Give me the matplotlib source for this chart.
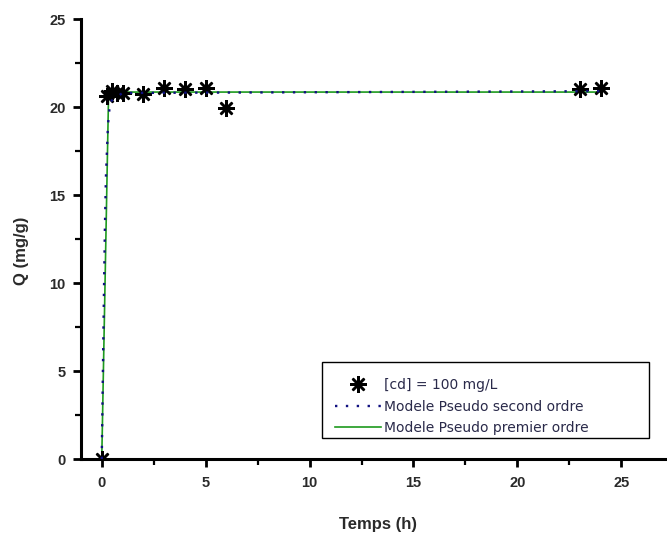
import matplotlib
matplotlib.use("Agg")
import matplotlib.pyplot as plt
from matplotlib.patches import Rectangle
from matplotlib.ticker import MultipleLocator

# Measured adsorption of Cd (100 mg/L) over time
t_exp = [0, 0.25, 0.5, 0.75, 1, 2, 3, 4, 5, 6, 23, 24]
q_exp = [0, 20.6, 20.9, 20.8, 20.8, 20.75, 21.1, 21.05, 21.1, 19.95, 21.0, 21.1]

# Pseudo-second-order model curve
t_ps2 = [0, 0.05, 0.1, 0.15, 0.2, 0.3, 0.4, 1.0, 24.0]
q_ps2 = [0, 4.5, 9.0, 13.0, 16.0, 19.0, 20.3, 20.8, 20.9]

# Pseudo-first-order model curve
t_ps1 = [0, 0.33, 24.0]
q_ps1 = [0, 20.85, 20.85]

labels = ["[cd] = 100 mg/L", "Modele Pseudo second ordre", "Modele Pseudo premier ordre"]

plt.rcParams["font.family"] = ["Liberation Sans", "DejaVu Sans"]

fig = plt.figure(figsize=(6.67, 5.39), dpi=100)
ax = fig.add_axes([0.1214, 0.1484, 0.8786, 0.8163])

ax.plot(t_exp, q_exp, linestyle="none", marker=(8, 2, 0), markersize=12,
        markeredgewidth=1.8, color="black", label=labels[0], zorder=3)
ax.plot(t_ps2, q_ps2, linestyle=(0, (1, 3.6)), linewidth=1.7,
        color="#101080", label=labels[1], zorder=4)
ax.plot(t_ps1, q_ps1, linestyle="-", linewidth=1.2, color="#1e9a1e",
        label=labels[2], zorder=2)

ax.set_xlim(-1.0, 27.2)
ax.set_ylim(0, 25)
ax.xaxis.set_major_locator(MultipleLocator(5))
ax.xaxis.set_minor_locator(MultipleLocator(2.5))
ax.yaxis.set_major_locator(MultipleLocator(5))
ax.yaxis.set_minor_locator(MultipleLocator(2.5))

for side in ("top", "right"):
    ax.spines[side].set_visible(False)
for side in ("left", "bottom"):
    ax.spines[side].set_linewidth(2.2)

ax.tick_params(which="major", direction="out", length=6, width=2.0,
               labelsize=10.5, labelcolor="#2a2a2a")
ax.tick_params(axis="x", which="major", pad=6)
ax.tick_params(axis="y", which="major", pad=5)
ax.tick_params(which="minor", direction="out", length=4, width=1.6)
for lab in ax.get_xticklabels() + ax.get_yticklabels():
    lab.set_fontweight("bold")

ax.set_xlabel("Temps (h)", fontsize=12, fontweight="bold", color="#2a2a2a")
ax.set_ylabel("Q (mg/g)", fontsize=12, fontweight="bold", color="#2a2a2a")
ax.xaxis.set_label_coords(0.507, -0.132)
ax.yaxis.set_label_coords(-0.0887, 0.473)

# Legend frame drawn as a separate box, entries placed inside it
ax.add_patch(Rectangle((0.411, 0.048), 0.558, 0.173, transform=ax.transAxes,
                       facecolor="white", edgecolor="black", linewidth=1.0,
                       zorder=5, clip_on=False))
leg = ax.legend(loc="lower left", bbox_to_anchor=(0.4334, 0.054),
                prop={"family": "DejaVu Sans", "size": 10},
                frameon=False, handlelength=3.3, handletextpad=0.25,
                borderpad=0, labelspacing=0.55, borderaxespad=0)
leg.set_zorder(6)
for txt in leg.get_texts():
    txt.set_color("#2a2a4a")

fig.savefig("out.png", dpi=100)
